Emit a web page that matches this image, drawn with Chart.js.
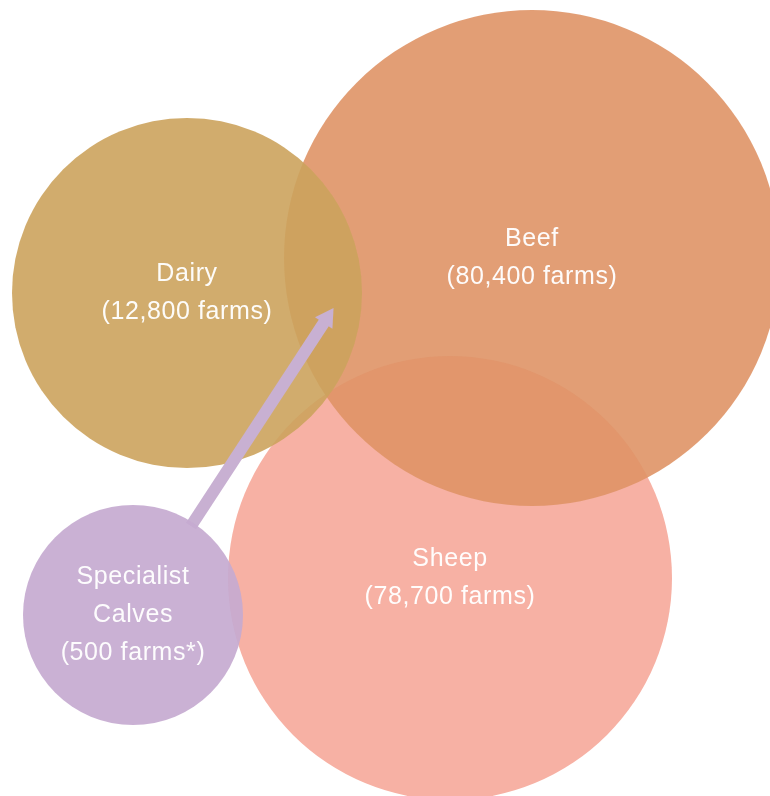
<!DOCTYPE html>
<html>
<head>
<meta charset="utf-8">
<script src="https://cdn.jsdelivr.net/npm/chart.js@4/dist/chart.umd.min.js"></script>
<style>
  html, body { margin: 0; padding: 0; background: #ffffff; }
  #wrap { width: 770px; height: 796px; position: relative; }
</style>
</head>
<body>
<div id="wrap"><canvas id="c" width="770" height="796"></canvas></div>
<script>
// ---- data ----
const categories = ['Dairy', 'Beef', 'Sheep', 'Specialist Calves'];
const nameLines = [['Dairy'], ['Beef'], ['Sheep'], ['Specialist', 'Calves']];
const farmCounts = [12800, 80400, 78700, 500];
const farmNotes = ['', '', '', '*'];
// bubble centres and radii in chart units (0..770 by 0..796)
const bubbleX = [187, 532, 450, 133];
const bubbleY = [293, 258, 578, 615];
const bubbleR = [175, 248, 222, 110];
// connector from the Specialist Calves edge towards the Dairy/Beef overlap
const connectorX = [191, 327];
const connectorY = [526, 318];

const colors = {
  'Dairy': 'rgba(204,163,93,0.9)',
  'Beef': 'rgba(223,147,102,0.9)',
  'Sheep': 'rgb(247,177,164)',
  'Specialist Calves': 'rgba(197,170,208,0.92)'
};
const connectorColor = 'rgb(200,176,210)';

function bubblePoint(i) {
  return { x: bubbleX[i], y: bubbleY[i], r: bubbleR[i] };
}

// higher "order" is drawn first (further back)
const drawOrder = { 'Sheep': 50, 'Beef': 40, 'Dairy': 30, 'Specialist Calves': 10 };

const datasets = categories.map((name, i) => ({
  type: 'bubble',
  label: name,
  data: [bubblePoint(i)],
  backgroundColor: colors[name],
  borderWidth: 0,
  hoverBorderWidth: 0,
  hoverRadius: 0,
  clip: false,
  order: drawOrder[name]
}));

datasets.push({
  type: 'line',
  label: 'connector',
  data: connectorX.map((x, i) => ({ x: x, y: connectorY[i] })),
  borderColor: connectorColor,
  backgroundColor: connectorColor,
  borderWidth: 12,
  borderCapStyle: 'butt',
  pointRadius: [0, 12],
  pointHoverRadius: [0, 12],
  pointBorderWidth: 0,
  pointStyle: 'triangle',
  clip: false,
  pointRotation: function (ctx) {
    const sx = ctx.chart.scales.x, sy = ctx.chart.scales.y;
    if (!sx || !sy) return 0;
    const x0 = sx.getPixelForValue(connectorX[0]), y0 = sy.getPixelForValue(connectorY[0]);
    const x1 = sx.getPixelForValue(connectorX[1]), y1 = sy.getPixelForValue(connectorY[1]);
    return Math.atan2(x1 - x0, y0 - y1) * 180 / Math.PI;
  },
  order: 20
});

const labelPlugin = {
  id: 'bubbleLabels',
  afterDatasetsDraw(chart) {
    const ctx = chart.ctx;
    const sx = chart.scales.x, sy = chart.scales.y;
    ctx.save();
    ctx.fillStyle = 'rgba(255,255,255,0.97)';
    ctx.font = '25px "Liberation Sans", Arial, Helvetica, sans-serif';
    if ('letterSpacing' in ctx) ctx.letterSpacing = '0.6px';
    ctx.textAlign = 'center';
    ctx.textBaseline = 'middle';
    const lineH = 38;
    categories.forEach((name, i) => {
      const lines = nameLines[i].concat(['(' + farmCounts[i].toLocaleString('en-US') + ' farms' + farmNotes[i] + ')']);
      const cx = sx.getPixelForValue(bubbleX[i]);
      const cy = sy.getPixelForValue(bubbleY[i]);
      const top = cy - (lines.length - 1) * lineH / 2;
      lines.forEach((t, k) => ctx.fillText(t, cx, top + k * lineH));
    });
    ctx.restore();
  }
};

new Chart(document.getElementById('c'), {
  data: { datasets: datasets },
  options: {
    responsive: false,
    animation: false,
    events: [],
    layout: { padding: 0, autoPadding: false },
    plugins: { legend: { display: false }, tooltip: { enabled: false } },
    scales: {
      x: { type: 'linear', min: 0, max: 770, display: false },
      y: { type: 'linear', min: 0, max: 796, reverse: true, display: false }
    }
  },
  plugins: [labelPlugin]
});
</script>
</body>
</html>
